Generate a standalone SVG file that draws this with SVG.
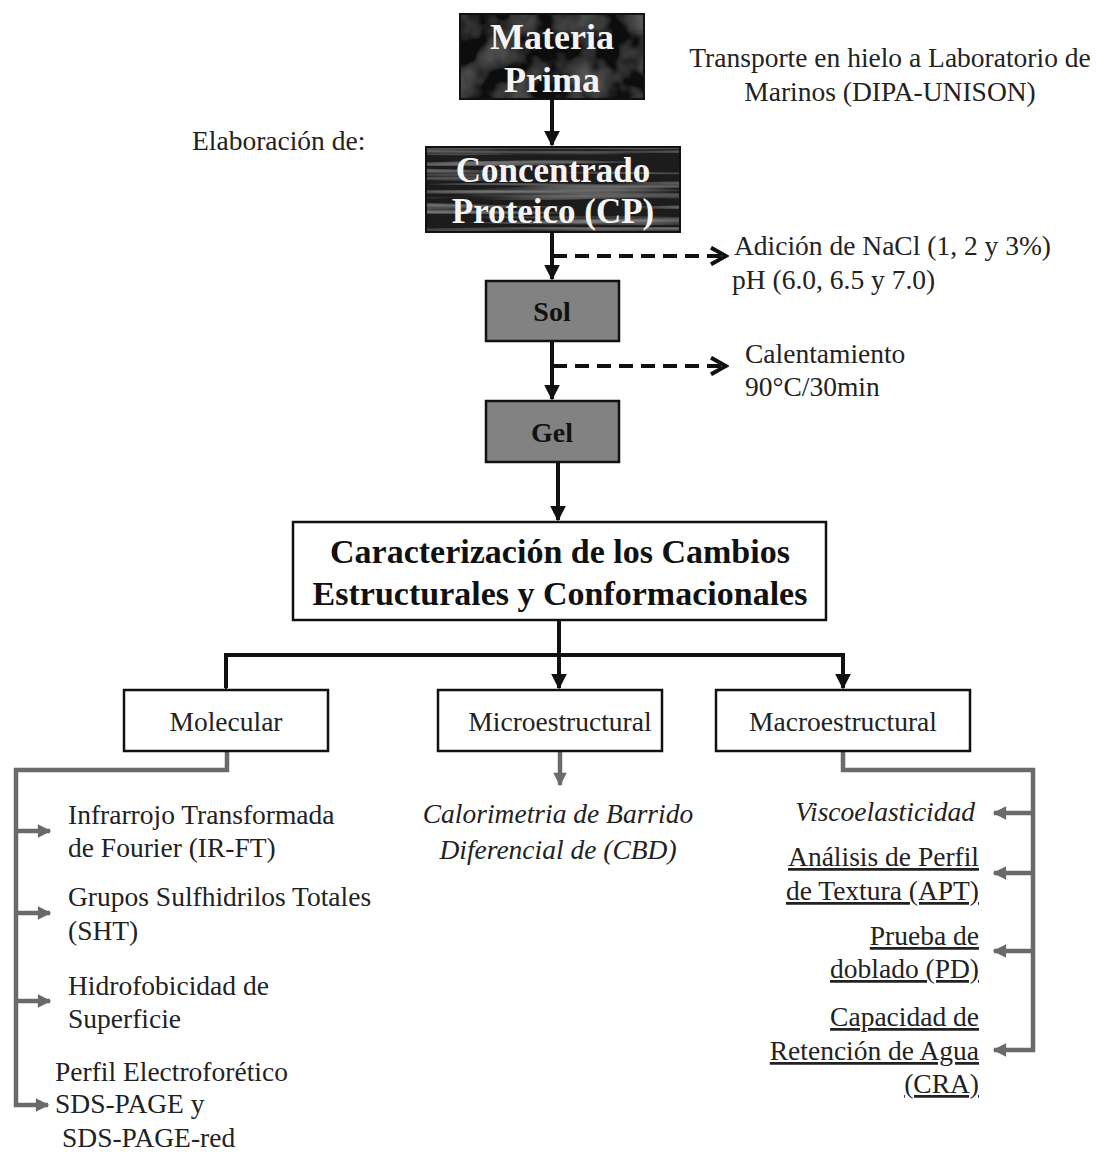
<svg xmlns="http://www.w3.org/2000/svg" width="1097" height="1152" viewBox="0 0 1097 1152">
<style>
  .t { font-family: "Liberation Serif", "Times New Roman", serif; fill: #222; }
  .n { font-size: 27.5px; }
  .b { font-weight: bold; }
  .w { fill: #f4f4f4; font-weight: bold; }
  .it { font-style: italic; }
  .u { text-decoration: underline; }
  .box { fill: #fff; stroke: #111; stroke-width: 2.5; }
  .gbox { fill: #828282; stroke: #111; stroke-width: 2.5; }
  .main { stroke: #111; stroke-width: 4; fill: none; }
  .dash { stroke: #111; stroke-width: 4; fill: none; stroke-dasharray: 14 8; }
  .gray { stroke: #6a6a6a; stroke-width: 4.5; fill: none; }
</style>
<defs>
  <marker id="ah" viewBox="0 0 10 10" refX="9" refY="5" markerWidth="4" markerHeight="4" orient="auto" markerUnits="strokeWidth">
    <path d="M0,0 L10,5 L0,10 z" fill="#111"/>
  </marker>
  <marker id="ahg" viewBox="0 0 10 10" refX="9" refY="5" markerWidth="3.2" markerHeight="3" orient="auto" markerUnits="strokeWidth">
    <path d="M0,0 L10,5 L0,10 z" fill="#6a6a6a"/>
  </marker>
  <marker id="chev" viewBox="0 0 12 12" refX="10" refY="6" markerWidth="5" markerHeight="5" orient="auto" markerUnits="strokeWidth">
    <path d="M1,1 L10,6 L1,11" fill="none" stroke="#111" stroke-width="2.4"/>
  </marker>
  <filter id="marble" x="0" y="0" width="100%" height="100%">
    <feTurbulence type="fractalNoise" baseFrequency="0.03" numOctaves="3" seed="4" result="n"/>
    <feColorMatrix in="n" type="matrix" values="0 0 0 0 0.22  0 0 0 0 0.22  0 0 0 0 0.22  0 0 0 0.9 -0.35" result="c"/>
    <feComposite in="c" in2="SourceGraphic" operator="atop"/>
  </filter>
  <filter id="wood" x="0" y="0" width="100%" height="100%">
    <feTurbulence type="fractalNoise" baseFrequency="0.004 0.18" numOctaves="2" seed="7" result="n"/>
    <feColorMatrix in="n" type="matrix" values="0 0 0 0 0.32  0 0 0 0 0.32  0 0 0 0 0.32  0 0 0 2.0 -0.95" result="c"/>
    <feComposite in="c" in2="SourceGraphic" operator="atop"/>
  </filter>
</defs>

<g id="connectors">
  <line class="main" x1="552" y1="99" x2="552" y2="145" marker-end="url(#ah)"/>
  <line class="main" x1="552" y1="232" x2="552" y2="279" marker-end="url(#ah)"/>
  <line class="main" x1="552" y1="341" x2="552" y2="399" marker-end="url(#ah)"/>
  <line class="main" x1="558" y1="462" x2="558" y2="520" marker-end="url(#ah)"/>
  <line class="dash" x1="553" y1="256" x2="726" y2="256" marker-end="url(#chev)"/>
  <line class="dash" x1="553" y1="366" x2="726" y2="366" marker-end="url(#chev)"/>
  <line class="main" x1="559" y1="620" x2="559" y2="655"/>
  <path class="main" d="M226,688 L226,655 L843,655 L843,688" marker-start="url(#ah)" marker-end="url(#ah)"/>
  <line class="main" x1="559" y1="655" x2="559" y2="688" marker-end="url(#ah)"/>
  <path class="gray" d="M227,751 L227,770 L16,770 L16,1105 L48,1105" marker-end="url(#ahg)"/>
  <line class="gray" x1="16" y1="831" x2="50" y2="831" marker-end="url(#ahg)"/>
  <line class="gray" x1="16" y1="913" x2="50" y2="913" marker-end="url(#ahg)"/>
  <line class="gray" x1="16" y1="1001" x2="50" y2="1001" marker-end="url(#ahg)"/>
  <line class="gray" x1="560" y1="751" x2="560" y2="785" marker-end="url(#ahg)"/>
  <path class="gray" d="M843,751 L843,770 L1033,770 L1033,1050 L994,1050" marker-end="url(#ahg)"/>
  <line class="gray" x1="1033" y1="813" x2="994" y2="813" marker-end="url(#ahg)"/>
  <line class="gray" x1="1033" y1="873" x2="994" y2="873" marker-end="url(#ahg)"/>
  <line class="gray" x1="1033" y1="951" x2="994" y2="951" marker-end="url(#ahg)"/>
</g>

<g id="materia-prima">
  <rect x="460" y="14" width="184" height="85" fill="#0a0a0a" filter="url(#marble)"/>
  <rect x="460" y="14" width="184" height="85" fill="none" stroke="#111" stroke-width="2"/>
  <text class="t w" x="552" y="49" font-size="36" text-anchor="middle">Materia</text>
  <text class="t w" x="552" y="92" font-size="36" text-anchor="middle">Prima</text>
</g>

<g id="transporte">
  <text class="t n" x="890" y="67" text-anchor="middle">Transporte en hielo a Laboratorio de</text>
  <text class="t n" x="890" y="101" text-anchor="middle">Marinos (DIPA-UNISON)</text>
</g>

<g id="elaboracion">
  <text class="t n" x="192" y="150">Elaboración de:</text>
</g>

<g id="concentrado">
  <rect x="426" y="147" width="254" height="85" fill="#1c1c1c" filter="url(#wood)"/>
  <rect x="426" y="147" width="254" height="85" fill="none" stroke="#111" stroke-width="2"/>
  <text class="t w" x="553" y="182" font-size="35" text-anchor="middle">Concentrado</text>
  <text class="t w" x="553" y="223" font-size="35" text-anchor="middle">Proteico (CP)</text>
</g>

<g id="nacl">
  <text class="t n" x="734" y="255">Adición de NaCl (1, 2 y 3%)</text>
  <text class="t n" x="732" y="289">pH (6.0, 6.5 y 7.0)</text>
</g>

<g id="sol">
  <rect class="gbox" x="486" y="281" width="133" height="60"/>
  <text class="t b" x="552" y="321" font-size="28" text-anchor="middle" style="fill:#111">Sol</text>
</g>

<g id="calentamiento">
  <text class="t n" x="745" y="363">Calentamiento</text>
  <text class="t n" x="745" y="396">90°C/30min</text>
</g>

<g id="gel">
  <rect class="gbox" x="486" y="401" width="133" height="61"/>
  <text class="t b" x="552" y="442" font-size="28" text-anchor="middle" style="fill:#111">Gel</text>
</g>

<g id="caracterizacion">
  <rect class="box" x="293" y="522" width="533" height="98"/>
  <text class="t b" x="560" y="563" font-size="34" text-anchor="middle" style="fill:#111">Caracterización de los Cambios</text>
  <text class="t b" x="560" y="605" font-size="34" text-anchor="middle" style="fill:#111">Estructurales y Conformacionales</text>
</g>

<g id="molecular">
  <rect class="box" x="124" y="690" width="204" height="61"/>
  <text class="t n" x="226" y="731" text-anchor="middle">Molecular</text>
</g>

<g id="microestructural">
  <rect class="box" x="438" y="690" width="224" height="61"/>
  <text class="t n" x="560" y="731" text-anchor="middle">Microestructural</text>
</g>

<g id="macroestructural">
  <rect class="box" x="716" y="690" width="254" height="61"/>
  <text class="t n" x="843" y="731" text-anchor="middle">Macroestructural</text>
</g>

<g id="molecular-items">
  <text class="t n" x="68" y="824">Infrarrojo Transformada</text>
  <text class="t n" x="68" y="857">de Fourier (IR-FT)</text>
  <text class="t n" x="68" y="906">Grupos Sulfhidrilos Totales</text>
  <text class="t n" x="68" y="940">(SHT)</text>
  <text class="t n" x="68" y="995">Hidrofobicidad de</text>
  <text class="t n" x="68" y="1028">Superficie</text>
  <text class="t n" x="55" y="1081">Perfil Electroforético</text>
  <text class="t n" x="55" y="1113">SDS-PAGE y</text>
  <text class="t n" x="62" y="1147">SDS-PAGE-red</text>
</g>

<g id="micro-items">
  <text class="t n it" x="558" y="823" text-anchor="middle">Calorimetria de Barrido</text>
  <text class="t n it" x="558" y="859" text-anchor="middle">Diferencial de (CBD)</text>
</g>

<g id="macro-items">
  <text class="t n it" x="975" y="821" text-anchor="end">Viscoelasticidad</text>
  <text class="t n u" x="979" y="866" text-anchor="end">Análisis de Perfil</text>
  <text class="t n u" x="979" y="900" text-anchor="end">de Textura (APT)</text>
  <text class="t n u" x="979" y="945" text-anchor="end">Prueba de</text>
  <text class="t n u" x="979" y="978" text-anchor="end">doblado (PD)</text>
  <text class="t n u" x="979" y="1026" text-anchor="end">Capacidad de</text>
  <text class="t n u" x="979" y="1060" text-anchor="end">Retención de Agua</text>
  <text class="t n u" x="979" y="1093" text-anchor="end">(CRA)</text>
</g>
</svg>
